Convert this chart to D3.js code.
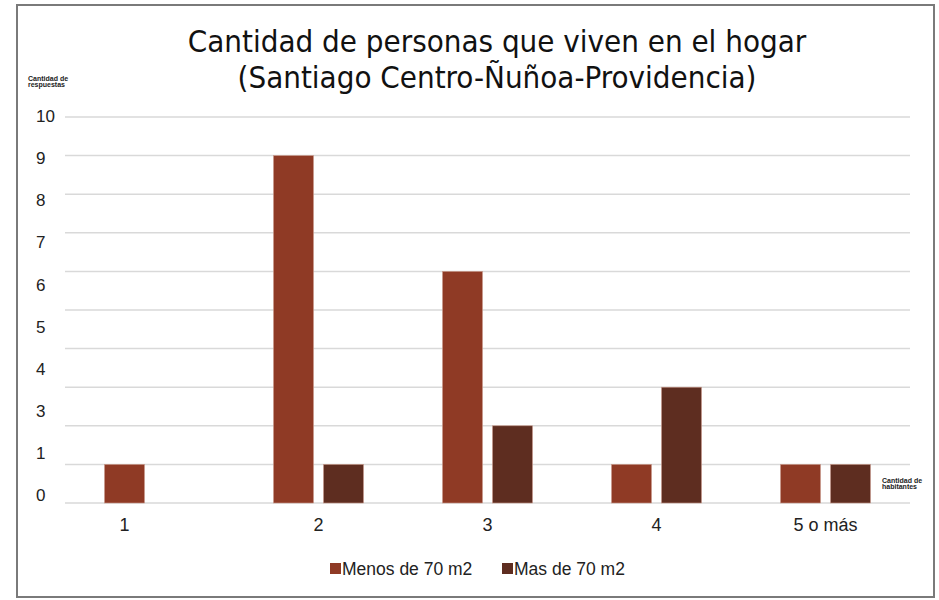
<!DOCTYPE html>
<html>
<head>
<meta charset="utf-8">
<script src="https://cdn.jsdelivr.net/npm/d3@7"></script>
<style>
  body { margin: 0; background: #fff; }
  svg text { font-family: "Liberation Sans", Arial, sans-serif; fill: #222; }
</style>
</head>
<body>
<svg id="chart" width="939" height="600"></svg>
<script>
// data
var categories = ["1", "2", "3", "4", "5 o más"];
var seriesNames = ["Menos de 70 m2", "Mas de 70 m2"];
var menosValues = [1, 9, 6, 1, 1];
var masValues = [0, 1, 2, 3, 1];
// the y labels in the picture skip "2" and are spread evenly
var yTickLabels = ["10", "9", "8", "7", "6", "5", "4", "3", "1", "0"];
var gridValues = [0, 1, 2, 3, 4, 5, 6, 7, 8, 9, 10];
var titleLines = ["Cantidad de personas que viven en el hogar", "(Santiago Centro-Ñuñoa-Providencia)"];

var colors = ["#8f3a25", "#5e2d20"];

var svg = d3.select("#chart");

// frame
svg.append("rect")
  .attr("x", 17).attr("y", 5)
  .attr("width", 917).attr("height", 592)
  .attr("fill", "none")
  .attr("stroke", "#7a7a7a")
  .attr("stroke-width", 2);

// title
svg.append("g").selectAll("text")
  .data(titleLines)
  .enter().append("text")
  .attr("x", 497)
  .attr("y", (d, i) => 52 + i * 36)
  .attr("text-anchor", "middle")
  .style("font-family", "'DejaVu Sans Condensed', sans-serif")
  .style("font-size", "31px")
  .style("fill", "#111")
  .text(d => d);

// scales
var x = d3.scaleBand().domain(categories).range([65, 910]);
var xSub = d3.scaleBand().domain(seriesNames).range([-45, 45]).paddingInner(0.2);
var y = d3.scaleLinear().domain([0, 10]).range([503, 117]);
var yLab = d3.scalePoint().domain(yTickLabels).range([116, 495]);

// gridlines
svg.append("g").selectAll("line")
  .data(gridValues)
  .enter().append("line")
  .attr("x1", 65).attr("x2", 910)
  .attr("y1", d => y(d)).attr("y2", d => y(d))
  .attr("stroke", "#d9d9d9")
  .attr("stroke-width", 1.5);

// y labels
svg.append("g").selectAll("text")
  .data(yTickLabels)
  .enter().append("text")
  .attr("x", 36)
  .attr("y", d => yLab(d))
  .attr("dy", "0.36em")
  .style("font-size", "17px")
  .text(d => d);

// bars
var rows = categories.map(function(c, i) {
  return { cat: c, values: [menosValues[i], masValues[i]] };
});

var group = svg.append("g").selectAll(".cat")
  .data(rows)
  .enter().append("g")
  .attr("class", "cat")
  .attr("transform", d => "translate(" + (x(d.cat) + x.bandwidth() / 2) + ",0)");

group.selectAll("rect")
  .data(d => d.values.map((v, j) => ({ name: seriesNames[j], value: v, j: j })))
  .enter().append("rect")
  .filter(d => d.value > 0)
  .attr("x", d => xSub(d.name))
  .attr("width", xSub.bandwidth())
  .attr("y", d => y(d.value))
  .attr("height", d => y(0) - y(d.value))
  .attr("fill", d => colors[d.j])
  .attr("stroke", "#c99a8c")
  .attr("stroke-width", 0.6);

// x labels, centred on the bars that exist
group.append("text")
  .attr("x", function(d) {
    var xs = [];
    d.values.forEach(function(v, j) {
      if (v > 0) xs.push(xSub(seriesNames[j]) + xSub.bandwidth() / 2);
    });
    return d3.mean(xs);
  })
  .attr("y", 531)
  .attr("text-anchor", "middle")
  .style("font-size", "18px")
  .text(d => d.cat);

// small axis titles
var small = svg.append("g")
  .style("font-size", "7px")
  .style("font-weight", "bold");
small.append("text").attr("x", 28).attr("y", 81).text("Cantidad de");
small.append("text").attr("x", 28).attr("y", 87).text("respuestas");
small.append("text").attr("x", 882).attr("y", 483).text("Cantidad de");
small.append("text").attr("x", 882).attr("y", 489).text("habitantes");

// legend
var legendX = [330, 502];
var legend = svg.append("g").selectAll("g")
  .data(seriesNames)
  .enter().append("g")
  .attr("transform", (d, i) => "translate(" + legendX[i] + ",563)");
legend.append("rect")
  .attr("width", 11).attr("height", 11)
  .attr("fill", (d, i) => colors[i]);
legend.append("text")
  .attr("x", 12).attr("y", 11.5)
  .style("font-size", "17.5px")
  .text(d => d);
</script>
</body>
</html>
